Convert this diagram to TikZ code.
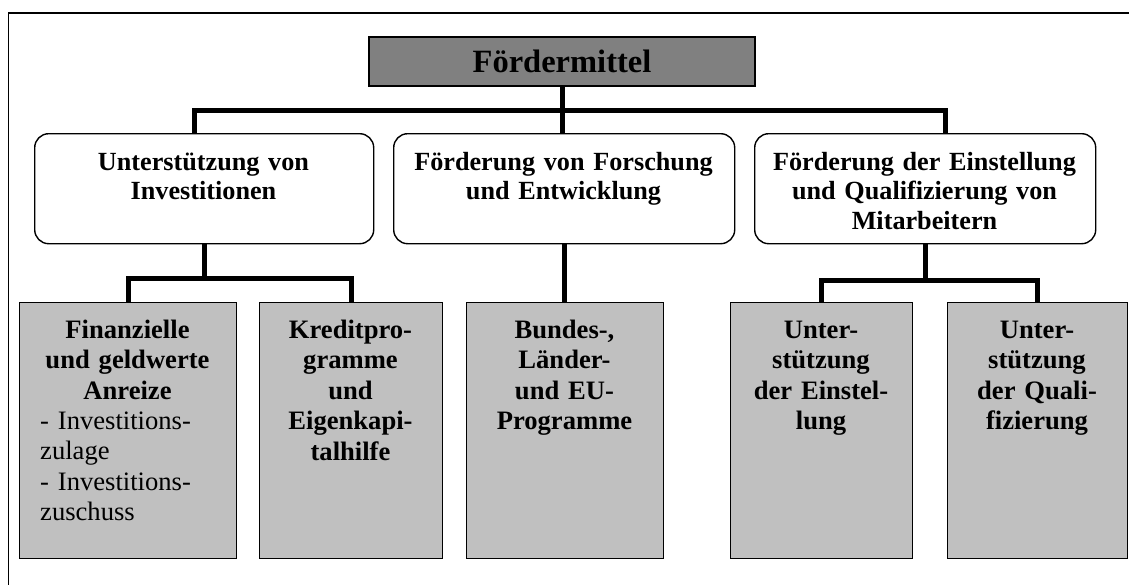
\documentclass[tikz,border=0pt]{standalone}
\usepackage{fontspec}
\setmainfont{Liberation Serif}
\definecolor{hgray}{HTML}{808080}
\definecolor{lgray}{HTML}{C0C0C0}
\begin{document}
\begin{tikzpicture}[x=1pt,y=-1pt,
  conn/.style={line width=5pt, line join=miter},
  headbox/.style={draw, line width=2pt, fill=hgray, minimum width=386pt, minimum height=49pt, inner sep=0pt,
    font=\fontsize{32.5}{37}\selectfont\bfseries},
  midbox/.style={draw, line width=1.4pt, rounded corners=14pt, fill=white, inner sep=0pt, anchor=north west, minimum height=110pt},
  lowbox/.style={draw, line width=1.4pt, fill=lgray, inner sep=0pt, anchor=north west, minimum height=256pt},
  midtext/.style={align=center, text width=335pt, inner sep=0pt, anchor=base,
    font=\fontsize{26.2}{29.5}\selectfont\bfseries},
  lowtext/.style={align=center, text width=210pt, inner sep=0pt, anchor=base,
    font=\fontsize{26.6}{30.5}\selectfont\bfseries},
  lowplain/.style={align=left, text width=190pt, inner sep=0pt, anchor=base west,
    font=\fontsize{26.6}{30.5}\selectfont}
]
\useasboundingbox (0,0) rectangle (1129,584);
% frame (cut at right and bottom)
\draw[line width=1.5pt] (8.5,600) -- (8.5,13) -- (1145,13);

% header
\node[headbox] (H) at (562,61.5) {Fördermittel};

% level 2
\node[midbox, minimum width=339pt] (B1) at (34,133) {};
\node[midbox, minimum width=341pt] (B2) at (393,133) {};
\node[midbox, minimum width=341pt] (B3) at (754,133) {};
\node[midtext] (B1t) at (203.5,170) {Unterstützung von\\Investitionen};
\node[midtext] (B2t) at (563.5,170) {Förderung von Forschung\\und Entwicklung};
\node[midtext] (B3t) at (924.5,170) {Förderung der Einstellung\\und Qualifizierung von\\Mitarbeitern};

% level 3
\node[lowbox, minimum width=217pt] (F) at (19,302) {};
\node[lowbox, minimum width=183pt] (K) at (259,302) {};
\node[lowbox, minimum width=197pt] (Bu) at (466,302) {};
\node[lowbox, minimum width=182pt] (E) at (730,302) {};
\node[lowbox, minimum width=180pt] (Q) at (947,302) {};

\node[lowtext] (Ft) at (127.5,338) {Finanzielle\\und geldwerte\\Anreize};
\node[lowplain] (Fr) at (40,429) {- Investitions-\\zulage\\- Investitions-\\zuschuss};
\node[lowtext] (Kt) at (350.5,338) {Kreditpro-\\gramme\\und\\Eigenkapi-\\talhilfe};
\node[lowtext] (But) at (564.5,338) {Bundes-,\\Länder-\\und EU-\\Programme};
\node[lowtext] (Et) at (821,338) {Unter-\\stützung\\der Einstel-\\lung};
\node[lowtext] (Qt) at (1037,338) {Unter-\\stützung\\der Quali-\\fizierung};

% connectors
\coordinate (bar1) at (0,110);
\coordinate (bar2) at (0,278);
\coordinate (bar3) at (0,280);
\draw[conn] (H.south) -- (H.south |- B2.north);
\draw[conn] ([xshift=-9.5pt]B1.north) |- ([xshift=20.5pt]B3.north |- bar1) -- ([xshift=20.5pt]B3.north);
\draw[conn] (B1.south) -- (B1.south |- bar2);
\draw[conn] (F.north) |- (K.north |- bar2) -- (K.north);
\draw[conn] (B2.south) -- (B2.south |- Bu.north);
\draw[conn] (B3.south) -- (B3.south |- bar3);
\draw[conn] (E.north) |- (Q.north |- bar3) -- (Q.north);
\end{tikzpicture}
\end{document}
